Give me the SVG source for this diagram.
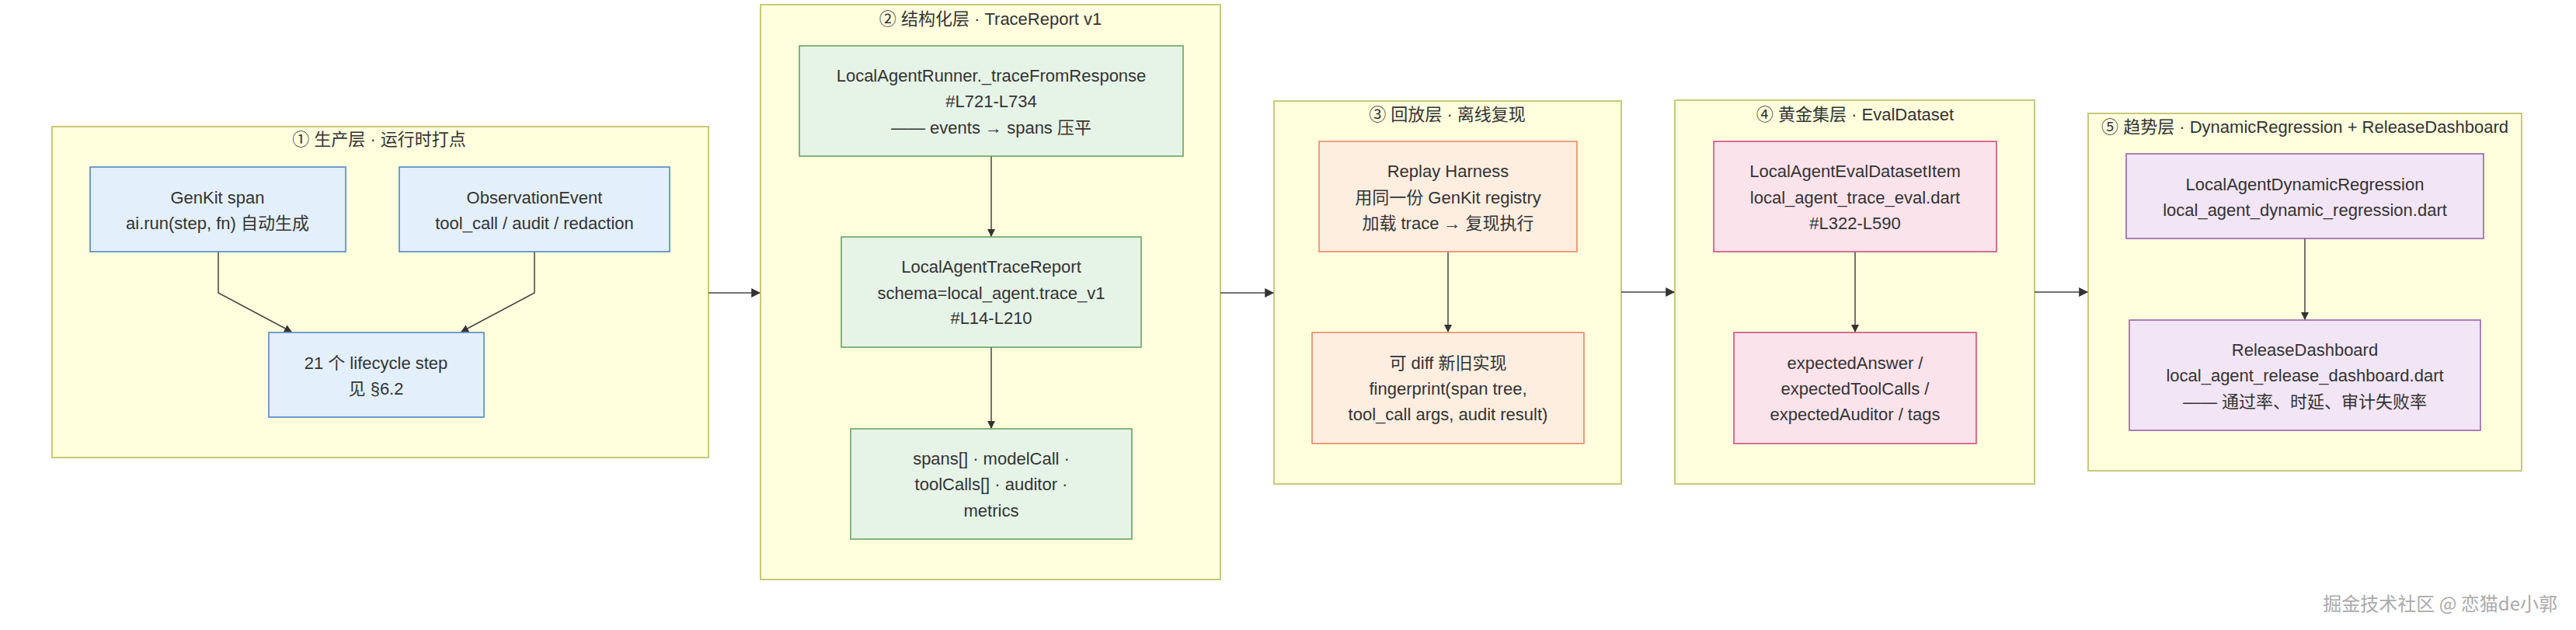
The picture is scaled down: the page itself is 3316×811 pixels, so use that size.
<svg xmlns="http://www.w3.org/2000/svg" width="3316" height="811" viewBox="0 0 3316 811">
<defs>
<marker id="arr" viewBox="0 0 10 10" refX="9" refY="5" markerWidth="10" markerHeight="10" markerUnits="userSpaceOnUse" orient="auto"><path d="M0,0 L10,5 L0,10 z" fill="#333"/></marker>
<marker id="arrL" viewBox="0 0 10 10" refX="9" refY="5" markerWidth="12" markerHeight="12" markerUnits="userSpaceOnUse" orient="auto"><path d="M0,0 L10,5 L0,10 z" fill="#333"/></marker>
<style>
.cl{fill:#ffffde;stroke:#c9c97a;stroke-width:2}
.t{font-family:"Liberation Sans","Noto Sans CJK SC",sans-serif;font-size:22px;fill:#333;text-anchor:middle;dominant-baseline:central}
.blue{fill:#e3f0fc;stroke:#4a7fc1;stroke-width:1.5}
.green{fill:#e6f3e7;stroke:#5f9e5a;stroke-width:1.5}
.orange{fill:#fdeee0;stroke:#e8825a;stroke-width:1.5}
.pink{fill:#fbe3ec;stroke:#c8457a;stroke-width:1.5}
.purple{fill:#f2e5f5;stroke:#8e5ba8;stroke-width:1.5}
.e{fill:none;stroke:#444;stroke-width:1.5}
.wm{font-family:"Noto Sans CJK SC","Liberation Sans",sans-serif;font-size:24px;fill:#aaa;text-anchor:end;dominant-baseline:central}
</style>
</defs>
<rect width="3316" height="811" fill="#ffffff"/>

<g id="cluster1">
<rect class="cl" x="67" y="163" width="845" height="426"/>
<text class="t" x="488" y="179">① 生产层 · 运行时打点</text>
</g>
<g id="cluster2">
<rect class="cl" x="979" y="6" width="592" height="740"/>
<text class="t" x="1275" y="24">② 结构化层 · TraceReport v1</text>
</g>
<g id="cluster3">
<rect class="cl" x="1640" y="130" width="447" height="493"/>
<text class="t" x="1863" y="147">③ 回放层 · 离线复现</text>
</g>
<g id="cluster4">
<rect class="cl" x="2156" y="129" width="463" height="494"/>
<text class="t" x="2388" y="147">④ 黄金集层 · EvalDataset</text>
</g>
<g id="cluster5">
<rect class="cl" x="2688" y="146" width="558" height="460"/>
<text class="t" x="2967" y="163">⑤ 趋势层 · DynamicRegression + ReleaseDashboard</text>
</g>

<g id="connectors">
<polyline class="e" points="281,324 281,377 375,427" marker-end="url(#arr)"/>
<polyline class="e" points="688,324 688,377 594,427" marker-end="url(#arr)"/>
<line class="e" x1="912" y1="377" x2="978" y2="377" marker-end="url(#arrL)"/>
<line class="e" x1="1276" y1="201" x2="1276" y2="304" marker-end="url(#arr)"/>
<line class="e" x1="1276" y1="447" x2="1276" y2="551" marker-end="url(#arr)"/>
<line class="e" x1="1571" y1="377" x2="1639" y2="377" marker-end="url(#arrL)"/>
<line class="e" x1="1864" y1="324" x2="1864" y2="427" marker-end="url(#arr)"/>
<line class="e" x1="2087" y1="376" x2="2155" y2="376" marker-end="url(#arrL)"/>
<line class="e" x1="2388" y1="324" x2="2388" y2="427" marker-end="url(#arr)"/>
<line class="e" x1="2619" y1="376" x2="2687" y2="376" marker-end="url(#arrL)"/>
<line class="e" x1="2967" y1="307" x2="2967" y2="411" marker-end="url(#arr)"/>
</g>

<g id="genkit">
<rect class="blue" x="116" y="215" width="329" height="109"/>
<text class="t" x="280" y="254">GenKit span</text>
<text class="t" x="280" y="287">ai.run(step, fn) 自动生成</text>
</g>
<g id="observation">
<rect class="blue" x="514" y="215" width="348" height="109"/>
<text class="t" x="688" y="254">ObservationEvent</text>
<text class="t" x="688" y="287">tool_call / audit / redaction</text>
</g>
<g id="lifecycle">
<rect class="blue" x="346" y="428" width="277" height="109"/>
<text class="t" x="484" y="467">21 个 lifecycle step</text>
<text class="t" x="484" y="500">见 §6.2</text>
</g>

<g id="runner">
<rect class="green" x="1029" y="59" width="494" height="142"/>
<text class="t" x="1276" y="97">LocalAgentRunner._traceFromResponse</text>
<text class="t" x="1276" y="130">#L721-L734</text>
<text class="t" x="1276" y="164">—— events → spans 压平</text>
</g>
<g id="tracereport">
<rect class="green" x="1083" y="305" width="386" height="142"/>
<text class="t" x="1276" y="343">LocalAgentTraceReport</text>
<text class="t" x="1276" y="377">schema=local_agent.trace_v1</text>
<text class="t" x="1276" y="409">#L14-L210</text>
</g>
<g id="fields">
<rect class="green" x="1095" y="552" width="362" height="142"/>
<text class="t" x="1276" y="590">spans[] · modelCall ·</text>
<text class="t" x="1276" y="623">toolCalls[] · auditor ·</text>
<text class="t" x="1276" y="657">metrics</text>
</g>

<g id="replay">
<rect class="orange" x="1698" y="182" width="332" height="142"/>
<text class="t" x="1864" y="220">Replay Harness</text>
<text class="t" x="1864" y="254">用同一份 GenKit registry</text>
<text class="t" x="1864" y="287">加载 trace → 复现执行</text>
</g>
<g id="diff">
<rect class="orange" x="1689" y="428" width="350" height="143"/>
<text class="t" x="1864" y="467">可 diff 新旧实现</text>
<text class="t" x="1864" y="500">fingerprint(span tree,</text>
<text class="t" x="1864" y="533">tool_call args, audit result)</text>
</g>

<g id="evalitem">
<rect class="pink" x="2206" y="182" width="364" height="142"/>
<text class="t" x="2388" y="220">LocalAgentEvalDatasetItem</text>
<text class="t" x="2388" y="254">local_agent_trace_eval.dart</text>
<text class="t" x="2388" y="287">#L322-L590</text>
</g>
<g id="expected">
<rect class="pink" x="2232" y="428" width="312" height="143"/>
<text class="t" x="2388" y="467">expectedAnswer /</text>
<text class="t" x="2388" y="500">expectedToolCalls /</text>
<text class="t" x="2388" y="533">expectedAuditor / tags</text>
</g>

<g id="regression">
<rect class="purple" x="2737" y="198" width="460" height="109"/>
<text class="t" x="2967" y="237">LocalAgentDynamicRegression</text>
<text class="t" x="2967" y="270">local_agent_dynamic_regression.dart</text>
</g>
<g id="dashboard">
<rect class="purple" x="2741" y="412" width="452" height="142"/>
<text class="t" x="2967" y="450">ReleaseDashboard</text>
<text class="t" x="2967" y="483">local_agent_release_dashboard.dart</text>
<text class="t" x="2967" y="517">—— 通过率、时延、审计失败率</text>
</g>

<text class="wm" x="3292" y="775">掘金技术社区 @ 恋猫de小郭</text>
</svg>
